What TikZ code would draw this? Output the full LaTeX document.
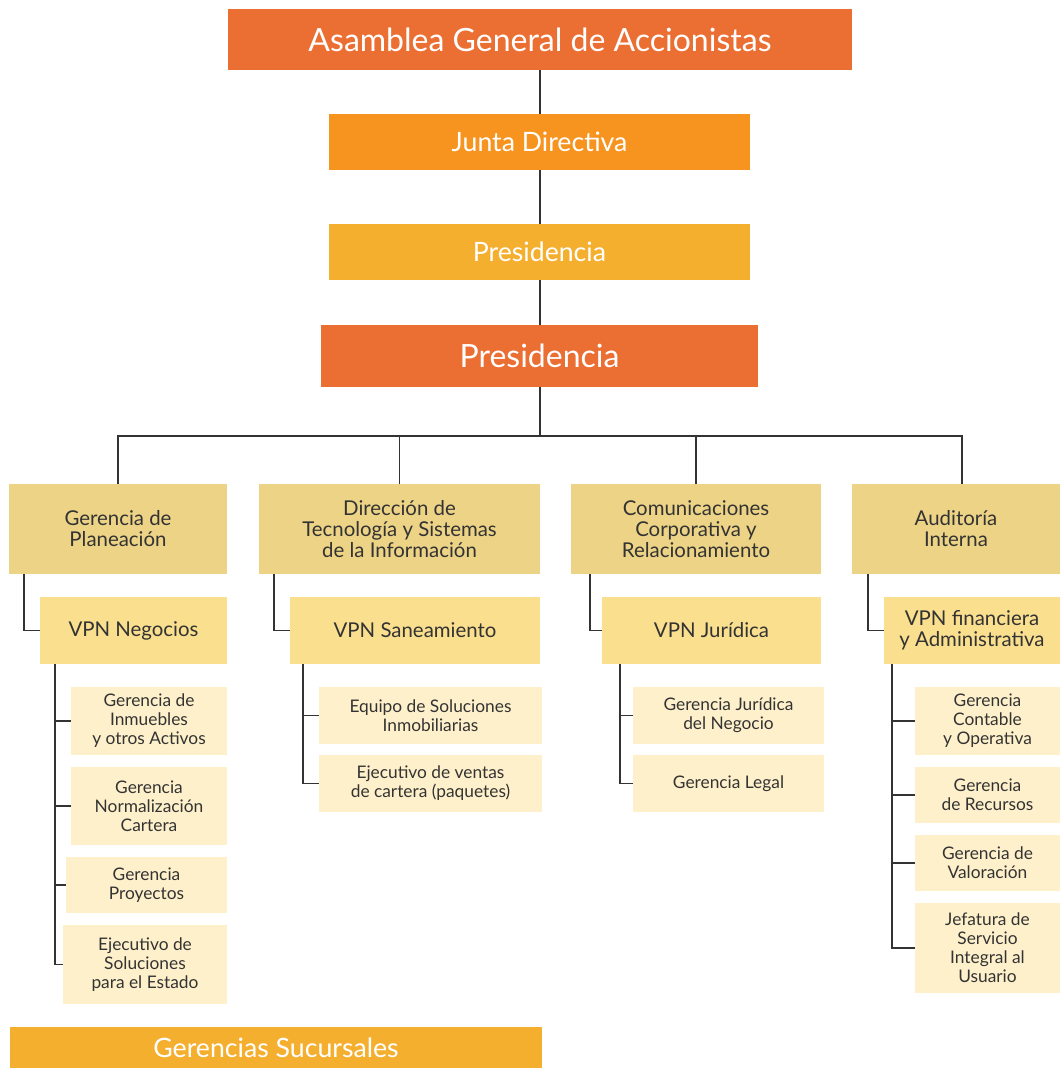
\documentclass[tikz,border=0pt]{standalone}
\usepackage{fontspec}
\setmainfont{Lato}
\usetikzlibrary{calc}
\definecolor{dorange}{HTML}{EB6E33}
\definecolor{morange}{HTML}{F7941F}
\definecolor{lorange}{HTML}{F5AF2F}
\definecolor{lvlone}{HTML}{EDD386}
\definecolor{lvltwo}{HTML}{FADF8E}
\definecolor{lvlthree}{HTML}{FEF0CA}
\definecolor{txt}{HTML}{333333}
\definecolor{linec}{HTML}{333333}
\tikzset{
  box/.style={inner sep=0pt, outer sep=0pt, align=center},
  topa/.style={box, fill=dorange, text=white, font=\fontsize{24}{28}\selectfont},
  topb/.style={box, fill=morange, text=white, font=\fontsize{20}{24}\selectfont},
  topc/.style={box, fill=lorange, text=white, font=\fontsize{20}{24}\selectfont},
  topd/.style={box, fill=dorange, text=white, font=\fontsize{24}{28}\selectfont},
  tope/.style={box, fill=lorange, text=white, font=\fontsize{20}{24}\selectfont},
  lone/.style={box, fill=lvlone, text=txt, font=\fontsize{15.3}{15.75}\selectfont},
  ltwo/.style={box, fill=lvltwo, text=txt, font=\fontsize{15.3}{15.75}\selectfont},
  lthree/.style={box, fill=lvlthree, text=txt, font=\fontsize{13}{14.25}\selectfont},
  conn/.style={draw=linec, line width=1.4pt},
}
\newcommand\bx[7]{\node[#6, minimum width={(#4-#2)*0.75pt}, minimum height={(#5-#3)*0.75pt}] (#1) at ({(#2+#4)/2},{(#3+#5)/2}) {#7};}
\begin{document}
\begin{tikzpicture}[x=0.75pt,y=-0.75pt]
\useasboundingbox (0,0) rectangle (1060,1068);
% top chain
\bx{asam}{228}{9}{852}{70}{topa}{Asamblea General de Accionistas}
\bx{junta}{329}{114}{750}{170}{topb}{Junta Directiva}
\bx{presa}{329}{224}{750}{280}{topc}{Presidencia}
\bx{presb}{321}{325}{758}{387}{topd}{Presidencia}
% level 1
\bx{plan}{9}{484}{227}{574}{lone}{Gerencia de\\Planeación}
\bx{dir}{259}{484}{540}{574}{lone}{Dirección de\\Tecnología y Sistemas\\de la Información}
\bx{com}{571}{484}{821}{574}{lone}{Comunicaciones\\Corporativa y\\Relacionamiento}
\bx{aud}{852}{484}{1060}{574}{lone}{Auditoría\\Interna}
% level 2
\bx{vneg}{40}{597}{227}{664}{ltwo}{VPN Negocios}
\bx{vsan}{290}{597}{540}{664}{ltwo}{VPN Saneamiento}
\bx{vjur}{602}{597}{821}{664}{ltwo}{VPN Jurídica}
\bx{vfin}{884}{597}{1060}{664}{ltwo}{VPN financiera\\y Administrativa}
% level 3 col 1
\bx{ga}{71}{687}{227}{755}{lthree}{Gerencia de\\Inmuebles\\y otros Activos}
\bx{gb}{71}{767}{227}{845}{lthree}{Gerencia\\Normalización\\Cartera}
\bx{gc}{66}{857}{227}{913}{lthree}{Gerencia\\Proyectos}
\bx{gd}{63}{925}{227}{1004}{lthree}{Ejecutivo de\\Soluciones\\para el Estado}
% col 2
\bx{sa}{319}{687}{542}{744}{lthree}{Equipo de Soluciones\\Inmobiliarias}
\bx{sb}{319}{755}{542}{812}{lthree}{Ejecutivo de ventas\\de cartera (paquetes)}
% col 3
\bx{ja}{633}{687}{824}{744}{lthree}{Gerencia Jurídica\\del Negocio}
\bx{jb}{633}{755}{824}{812}{lthree}{Gerencia Legal}
% col 4
\bx{fa}{915}{687}{1060}{755}{lthree}{Gerencia\\Contable\\y Operativa}
\bx{fb}{915}{767}{1060}{823}{lthree}{Gerencia\\de Recursos}
\bx{fc}{915}{835}{1060}{891}{lthree}{Gerencia de\\Valoración}
\bx{fd}{915}{903}{1060}{993}{lthree}{Jefatura de\\Servicio\\Integral al\\Usuario}
% bottom
\bx{suc}{10}{1027}{542}{1068}{tope}{Gerencias Sucursales}
% connectors top chain
\coordinate (bar) at (540,436);
\draw[conn] (asam.south) -- (asam.south |- junta.north);
\draw[conn] (junta.south -| asam.south) -- (asam.south |- presa.north);
\draw[conn] (presa.south -| asam.south) -- (asam.south |- presb.north);
\draw[conn] (presb.south -| asam.south) -- (bar);
\coordinate (audtop) at ($(aud.north)+(6,0)$);
\draw[conn] (plan.north) |- (audtop |- bar) -- (audtop);
\draw[conn] (dir.north) -- (dir.north |- bar);
\draw[conn] (com.north) -- (com.north |- bar);
% level1 -> level2
\draw[conn] ($(plan.south west)+(15,0)$) |- (vneg.west);
\draw[conn] ($(dir.south west)+(15,0)$) |- (vsan.west);
\draw[conn] ($(com.south west)+(19,0)$) |- (vjur.west);
\draw[conn] ($(aud.south west)+(16,0)$) |- (vfin.west);
% level2 -> level3
\coordinate (c1) at ($(vneg.south west)+(15,0)$);
\draw[conn] (c1) |- (gd.west);
\foreach \n in {ga,gb,gc} \draw[conn] (\n.west) -- (\n.west -| c1);
\coordinate (c2) at ($(vsan.south west)+(13,0)$);
\draw[conn] (c2) |- (sb.west);
\draw[conn] (sa.west) -- (sa.west -| c2);
\coordinate (c3) at ($(vjur.south west)+(18,0)$);
\draw[conn] (c3) |- (jb.west);
\draw[conn] (ja.west) -- (ja.west -| c3);
\coordinate (c4) at ($(vfin.south west)+(8,0)$);
\draw[conn] (c4) |- (fd.west);
\foreach \n in {fa,fb,fc} \draw[conn] (\n.west) -- (\n.west -| c4);
\end{tikzpicture}
\end{document}
